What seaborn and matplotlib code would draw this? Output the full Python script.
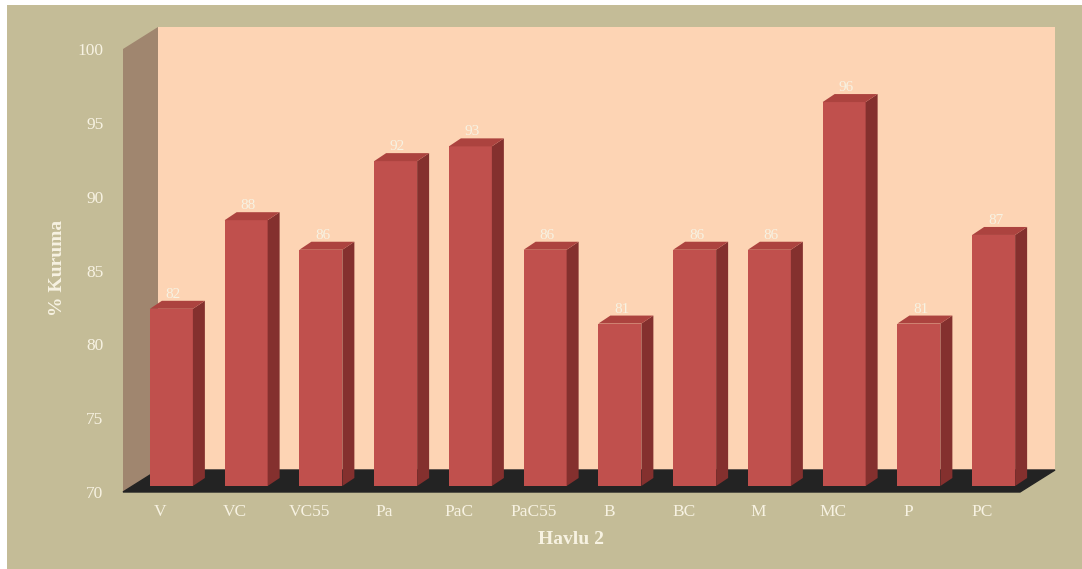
import numpy as np
import pandas as pd
import matplotlib
matplotlib.use("Agg")
import matplotlib.pyplot as plt
import seaborn as sns
from matplotlib.patches import Polygon, Rectangle

# ---- data ----
categories = ["V", "VC", "VC55", "Pa", "PaC", "PaC55", "B", "BC", "M", "MC", "P", "PC"]
kuruma = [82, 88, 86, 92, 93, 86, 81, 86, 86, 96, 81, 87]
y_ticks = [70, 75, 80, 85, 90, 95, 100]
x_title = "Havlu 2"
y_title = "% Kuruma"

# ---- colours ----
BG = "#C4BC97"
BACK_WALL = "#FDD4B4"
SIDE_WALL = "#A0866F"
FLOOR = "#232323"
FACE = "#C0504D"
BAR_SIDE = "#84302E"
BAR_TOP = "#AC433F"
TEXT = "#F7F2E2"

sns.set_theme(style="white")
plt.rcParams["font.family"] = ["Liberation Serif", "DejaVu Serif"]

W, H = 1082, 569
fig = plt.figure(figsize=(W / 100, H / 100), dpi=100, facecolor="white")
fig.add_artist(Rectangle((7 / W, 0), 1 - 7 / W, (H - 5) / H, transform=fig.transFigure,
                         facecolor=BG, edgecolor="none", zorder=-10))

# front plane of the 3-D box, in pixels
left_px, right_px, top_px, bottom_px = 123, 1020, 49, 492
ax = fig.add_axes([left_px / W, (H - bottom_px) / H,
                   (right_px - left_px) / W, (bottom_px - top_px) / H])
ax.set_facecolor("none")

n = len(categories)
y0, y1 = y_ticks[0], y_ticks[-1]
ux = (right_px - left_px) / n          # pixels per category
uy = (bottom_px - top_px) / (y1 - y0)  # pixels per unit


def dx(p):
    return p / ux


def dy(p):
    return p / uy


# depth offsets (pixels)
floor_dx, floor_dy = dx(35), dy(22)
lift_dx, lift_dy = dx(11), dy(6)
bar_dx, bar_dy = dx(12), dy(8)
bar_w = dx(43)

df = pd.DataFrame({"Havlu": categories, "Kuruma": kuruma})
sns.barplot(data=df, x="Havlu", y="Kuruma", color=FACE, saturation=1,
            width=bar_w, errorbar=None, linewidth=0, zorder=3, ax=ax)
bars = list(ax.patches)

# walls and floor
xl, xr = -0.5, n - 0.5
ax.add_patch(Rectangle((xl + floor_dx, y0 + floor_dy), n, y1 - y0,
                       facecolor=BACK_WALL, edgecolor="none", zorder=0, clip_on=False))
ax.add_patch(Polygon([(xl, y0), (xl + floor_dx, y0 + floor_dy),
                      (xl + floor_dx, y1 + floor_dy), (xl, y1)],
                     closed=True, facecolor=SIDE_WALL, edgecolor="none", zorder=0.5, clip_on=False))
ax.add_patch(Polygon([(xl, y0), (xr, y0), (xr + floor_dx, y0 + floor_dy),
                      (xl + floor_dx, y0 + floor_dy)],
                     closed=True, facecolor=FLOOR, edgecolor=FLOOR, linewidth=1,
                     zorder=1, clip_on=False))

# bars: lift the front face onto the floor, then add side and top faces
for patch, val in zip(bars, kuruma):
    x0 = patch.get_x() + lift_dx
    w = patch.get_width()
    b = y0 + lift_dy
    t = val + lift_dy
    patch.set_x(x0)
    patch.set_y(b)
    patch.set_height(val - y0)
    patch.set_clip_on(False)
    x1 = x0 + w
    ax.add_patch(Polygon([(x1, b), (x1 + bar_dx, b + bar_dy), (x1 + bar_dx, t + bar_dy), (x1, t)],
                         closed=True, facecolor=BAR_SIDE, edgecolor="none", zorder=3, clip_on=False))
    ax.add_patch(Polygon([(x0, t), (x1, t), (x1 + bar_dx, t + bar_dy), (x0 + bar_dx, t + bar_dy)],
                         closed=True, facecolor=BAR_TOP, edgecolor="none", zorder=3, clip_on=False))
    ax.annotate(f"{val}", (x0 + w / 2 + 2 / ux, t), xytext=(0, 11), textcoords="offset pixels",
                ha="center", va="baseline", fontsize=11, color=TEXT, zorder=5,
                annotation_clip=False)

ax.set_xlim(xl, xr)
ax.set_ylim(y0, y1)
ax.set_yticks(y_ticks)
ax.set_yticklabels([str(v) for v in y_ticks])
for s in ax.spines.values():
    s.set_visible(False)
ax.tick_params(axis="both", length=0, colors=TEXT, labelsize=12.5)
ax.tick_params(axis="y", pad=14)
ax.tick_params(axis="x", pad=9)

ax.set_xlabel(x_title, fontsize=14, fontweight="bold", color=TEXT)
ax.xaxis.set_label_coords(0.5, -(540 - bottom_px) / (bottom_px - top_px))
ax.xaxis.label.set_va("center")
ax.set_ylabel(y_title, fontsize=14, fontweight="bold", color=TEXT)
ax.yaxis.set_label_coords((57 - left_px) / (right_px - left_px),
                          (bottom_px - 268) / (bottom_px - top_px))
ax.yaxis.label.set_va("center")

fig.savefig("out.png", dpi=100, facecolor=fig.get_facecolor())
